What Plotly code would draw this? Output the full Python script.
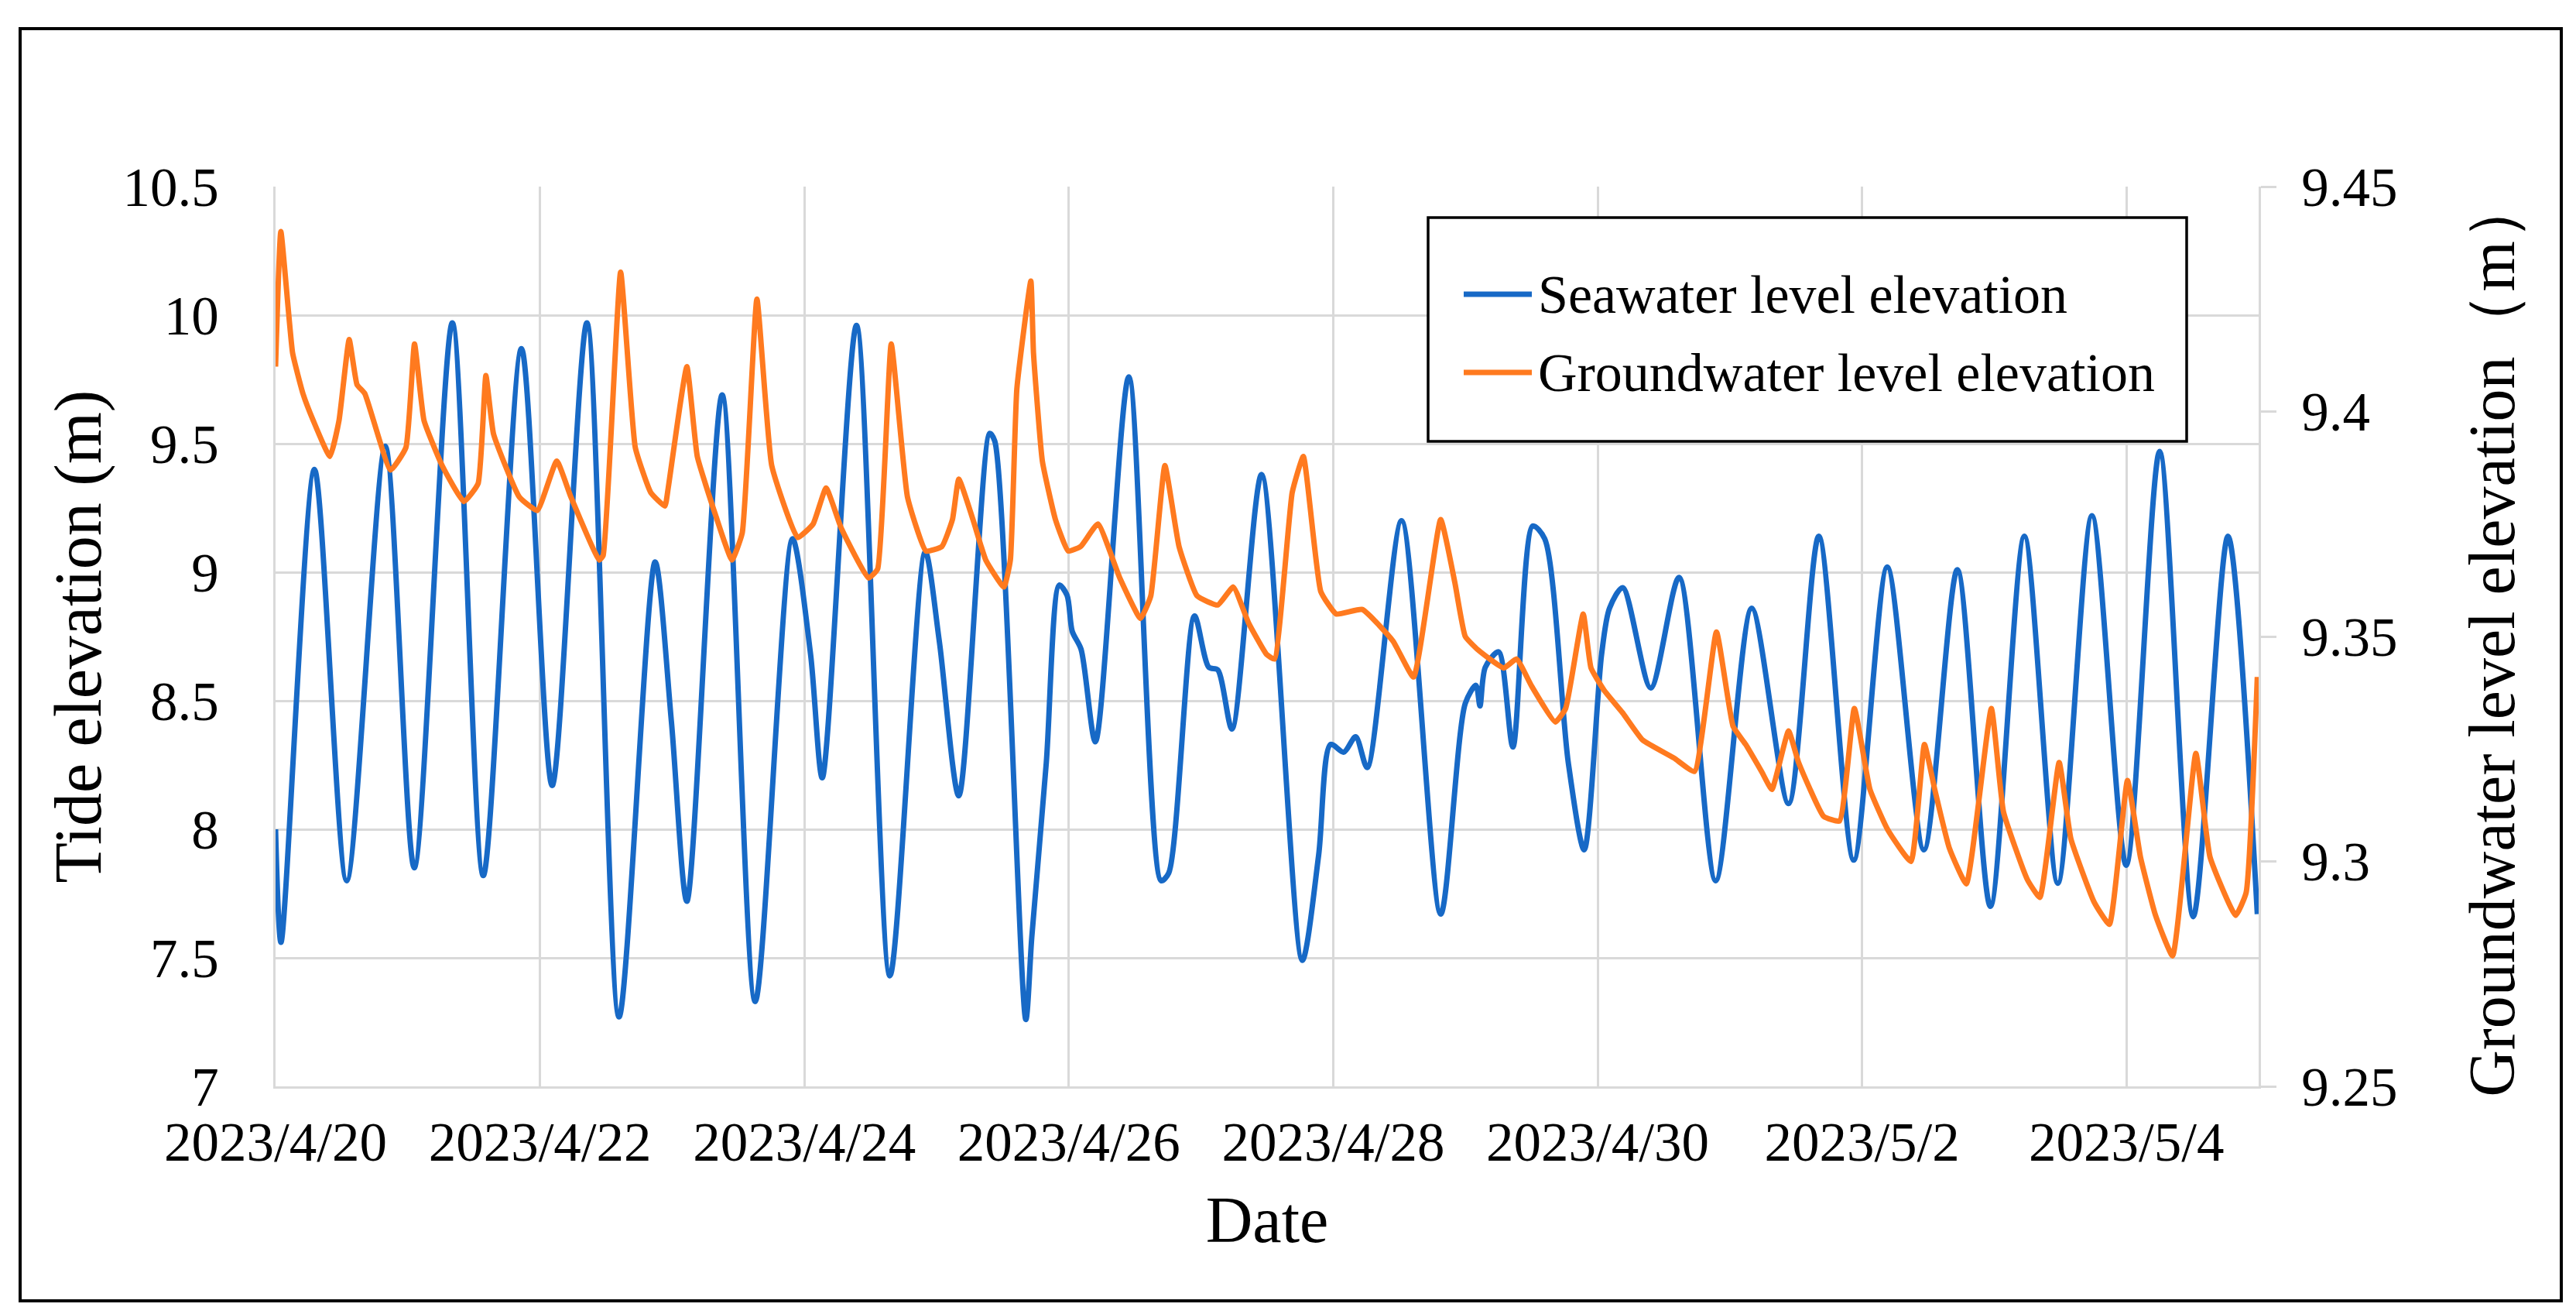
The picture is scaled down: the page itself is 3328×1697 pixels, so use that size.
import pandas as pd
import plotly.graph_objects as go

# ---------------- data ----------------
START = "2023-04-20"

# Seawater level (left axis): time in days since 2023/4/20 00:00, elevation in m
sea_days = [0.000, 0.041, 0.294, 0.538, 0.830, 1.049, 1.337, 1.571, 1.860, 2.092,
            2.355, 2.598, 2.871, 2.994, 3.111, 3.378, 3.628, 3.910, 4.047, 4.135,
            4.394, 4.647, 4.914, 5.021, 5.168, 5.402, 5.440, 5.675, 5.720, 5.830,
            5.928, 5.987, 6.026, 6.093, 6.201, 6.454, 6.698, 6.756, 6.951, 7.059,
            7.127, 7.234, 7.458, 7.766, 7.890, 7.980, 8.080, 8.170, 8.257, 8.517,
            8.813, 8.999, 9.080, 9.110, 9.150, 9.251, 9.359, 9.509, 9.600, 9.778,
            9.898, 10.030, 10.090, 10.190, 10.402, 10.616, 10.893, 11.166, 11.444, 11.673,
            11.937, 12.191, 12.468, 12.721, 12.971, 13.228, 13.481, 13.739, 13.998, 14.251,
            14.505, 14.768, 14.990]
sea_level = [8.00, 7.56, 9.40, 7.80, 9.49, 7.85, 9.97, 7.82, 9.87, 8.17,
             9.97, 7.27, 9.04, 8.42, 7.72, 9.69, 7.33, 9.13, 8.68, 8.20,
             9.96, 7.43, 9.08, 8.73, 8.13, 9.54, 9.51, 7.26, 7.58, 8.26,
             8.95, 8.91, 8.77, 8.70, 8.34, 9.76, 7.80, 7.83, 8.83, 8.63,
             8.62, 8.39, 9.38, 7.49, 7.90, 8.33, 8.30, 8.36, 8.24, 9.20,
             7.67, 8.49, 8.56, 8.48, 8.63, 8.69, 8.32, 9.18, 9.13, 8.26,
             7.92, 8.68, 8.86, 8.94, 8.55, 8.98, 7.80, 8.86, 8.10, 9.14,
             7.88, 9.02, 7.92, 9.01, 7.70, 9.14, 7.79, 9.22, 7.86, 9.47,
             7.66, 9.14, 7.67]

# Groundwater level (right axis)
gw_days = [0.000, 0.040, 0.129, 0.207, 0.285, 0.411, 0.480, 0.557, 0.616, 0.675,
           0.870, 0.986, 1.051, 1.123, 1.260, 1.425, 1.532, 1.591, 1.649, 1.844,
           1.980, 2.127, 2.234, 2.448, 2.478, 2.610, 2.721, 2.838, 2.945, 2.970,
           3.111, 3.190, 3.328, 3.452, 3.530, 3.641, 3.753, 3.949, 4.066, 4.164,
           4.280, 4.485, 4.554, 4.657, 4.780, 4.920, 5.040, 5.120, 5.168, 5.275,
           5.372, 5.509, 5.558, 5.607, 5.713, 5.733, 5.800, 5.899, 5.996, 6.090,
           6.220, 6.386, 6.542, 6.620, 6.727, 6.834, 6.971, 7.127, 7.244, 7.360,
           7.497, 7.556, 7.690, 7.774, 7.906, 8.023, 8.220, 8.452, 8.608, 8.813,
           8.920, 8.999, 9.096, 9.290, 9.387, 9.500, 9.680, 9.758, 9.891, 9.950,
           10.050, 10.190, 10.340, 10.577, 10.733, 10.899, 11.025, 11.120, 11.240, 11.318,
           11.444, 11.520, 11.710, 11.830, 11.942, 12.060, 12.195, 12.370, 12.472, 12.550,
           12.660, 12.789, 12.978, 13.070, 13.250, 13.345, 13.491, 13.580, 13.755, 13.871,
           14.008, 14.106, 14.220, 14.349, 14.525, 14.632, 14.826, 14.905, 14.990]
gw_level = [9.410, 9.440, 9.413, 9.404, 9.398, 9.390, 9.398, 9.416, 9.406, 9.404,
            9.387, 9.392, 9.415, 9.398, 9.388, 9.380, 9.384, 9.408, 9.395, 9.381,
            9.378, 9.389, 9.381, 9.367, 9.368, 9.431, 9.392, 9.382, 9.379, 9.383,
            9.410, 9.390, 9.377, 9.367, 9.373, 9.425, 9.388, 9.372, 9.375, 9.383,
            9.374, 9.363, 9.365, 9.415, 9.381, 9.369, 9.370, 9.376, 9.385, 9.376,
            9.367, 9.361, 9.367, 9.405, 9.429, 9.413, 9.389, 9.376, 9.369, 9.370,
            9.375, 9.363, 9.354, 9.359, 9.388, 9.370, 9.359, 9.357, 9.361, 9.353,
            9.346, 9.345, 9.382, 9.390, 9.360, 9.355, 9.356, 9.349, 9.341, 9.376,
            9.362, 9.350, 9.347, 9.343, 9.345, 9.339, 9.331, 9.334, 9.355, 9.343,
            9.338, 9.333, 9.327, 9.323, 9.320, 9.351, 9.330, 9.326, 9.320, 9.316,
            9.329, 9.322, 9.310, 9.309, 9.334, 9.316, 9.307, 9.300, 9.326, 9.316,
            9.303, 9.295, 9.334, 9.311, 9.296, 9.292, 9.322, 9.305, 9.291, 9.286,
            9.318, 9.301, 9.288, 9.279, 9.324, 9.301, 9.288, 9.293, 9.341]

left_ticks = [7, 7.5, 8, 8.5, 9, 9.5, 10, 10.5]
left_tick_labels = ["7", "7.5", "8", "8.5", "9", "9.5", "10", "10.5"]
right_ticks = [9.25, 9.30, 9.35, 9.40, 9.45]
right_tick_labels = ["9.25", "9.3", "9.35", "9.4", "9.45"]

series_names = ["Seawater level elevation", "Groundwater level elevation"]

# ---------------- figure ----------------
t0 = pd.Timestamp(START)
sea_time = t0 + pd.to_timedelta(sea_days, unit="D")
gw_time = t0 + pd.to_timedelta(gw_days, unit="D")

FONT = "Liberation Serif, Times New Roman, serif"
GRID = "#d9d9d9"
BLUE = "#1769C6"
ORANGE = "#FF7A1F"
LW = 7

W, H = 3328, 1697
ML, MR, MT, MB = 348, 418, 233, 302
PW, PH = W - ML - MR, H - MT - MB


def px_x(x):
    return (x - ML) / PW


def px_y(y):
    return (H - MB - y) / PH


fig = go.Figure()
fig.add_trace(go.Scatter(
    x=sea_time, y=sea_level, name=series_names[0], mode="lines",
    line=dict(color=BLUE, width=LW, shape="spline", smoothing=0.8),
    showlegend=False, yaxis="y"))
fig.add_trace(go.Scatter(
    x=gw_time, y=gw_level, name=series_names[1], mode="lines",
    line=dict(color=ORANGE, width=LW, shape="spline", smoothing=0.4),
    showlegend=False, yaxis="y2"))

# legend box drawn as in the reference (long line samples, framed box)
LEG_LEFT, LEG_RIGHT, LEG_TOP, LEG_BOTTOM = 1837, 2817, 273, 562
SAMPLE_X0, SAMPLE_X1, TEXT_X = 1883, 1971, 1977
ROW_Y = [372, 473]

shapes = [
    # outer frame of the figure
    dict(type="rect", xref="paper", yref="paper",
         x0=px_x(18), x1=px_x(3301), y0=px_y(1672), y1=px_y(29),
         line=dict(color="black", width=4), fillcolor="rgba(0,0,0,0)", layer="above"),
    # legend box
    dict(type="rect", xref="paper", yref="paper",
         x0=px_x(LEG_LEFT), x1=px_x(LEG_RIGHT), y0=px_y(LEG_BOTTOM), y1=px_y(LEG_TOP),
         line=dict(color="black", width=3.5), fillcolor="white", layer="above"),
]
annotations = []
for ry, col, name in zip(ROW_Y, [BLUE, ORANGE], series_names):
    shapes.append(dict(type="line", xref="paper", yref="paper",
                       x0=px_x(SAMPLE_X0), x1=px_x(SAMPLE_X1), y0=px_y(ry), y1=px_y(ry),
                       line=dict(color=col, width=LW), layer="above"))
    annotations.append(dict(xref="paper", yref="paper", x=px_x(TEXT_X), y=px_y(ry),
                            xanchor="left", yanchor="middle", showarrow=False,
                            text=name, font=dict(family=FONT, size=70, color="black")))

fig.update_layout(
    width=W, height=H,
    margin=dict(l=ML, r=MR, t=MT, b=MB, autoexpand=False),
    paper_bgcolor="white", plot_bgcolor="white",
    font=dict(family=FONT, size=71, color="black"),
    showlegend=False,
    xaxis=dict(
        type="date",
        range=[t0, t0 + pd.Timedelta(days=15)],
        tick0=t0, dtick=2 * 86400000, tickformat="%Y/%-m/%-d",
        showgrid=True, gridcolor=GRID, gridwidth=3,
        showline=True, linecolor=GRID, linewidth=3,
        ticks="", zeroline=False,
        tickfont=dict(family=FONT, size=71),
        ticklabelstandoff=8,
        title=dict(text="Date", font=dict(family=FONT, size=84), standoff=32),
    ),
    yaxis=dict(
        range=[7, 10.5], tickvals=left_ticks, ticktext=left_tick_labels,
        showgrid=True, gridcolor=GRID, gridwidth=3,
        showline=True, linecolor=GRID, linewidth=3,
        ticks="", zeroline=False,
        tickfont=dict(family=FONT, size=71),
        ticklabelstandoff=56,
        title=dict(text="Tide elevation (m)", font=dict(family=FONT, size=86), standoff=0),
    ),
    yaxis2=dict(
        range=[9.25, 9.45], tickvals=right_ticks, ticktext=right_tick_labels,
        overlaying="y", side="right",
        showgrid=False, showline=True, linecolor=GRID, linewidth=3,
        ticks="outside", ticklen=20, tickwidth=3, tickcolor=GRID,
        zeroline=False,
        tickfont=dict(family=FONT, size=71),
        ticklabelstandoff=18,
        title=dict(text="Groundwater level elevation\uff08m\uff09",
                   font=dict(family=FONT, size=84), standoff=93),
    ),
    shapes=shapes,
    annotations=annotations,
)

fig.write_html("out.html")
